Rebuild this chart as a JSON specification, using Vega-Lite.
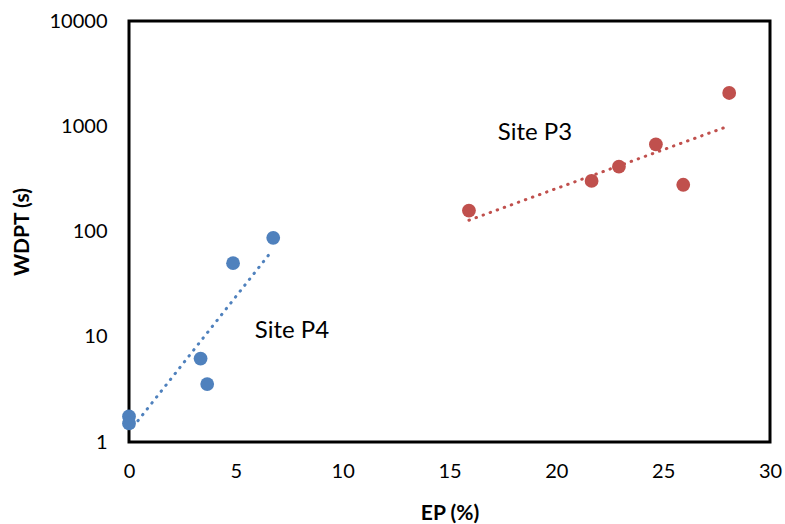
{
  "$schema": "https://vega.github.io/schema/vega-lite/v6.json",
  "width": 641,
  "height": 421,
  "autosize": "none",
  "padding": {"left": 129, "top": 21, "right": 15, "bottom": 82},
  "background": "white",
  "config": {
    "view": {"stroke": "black", "strokeWidth": 3},
    "font": "Lato"
  },
  "datasets": {
    "points": [
      {"site": "P4", "ep": 0, "wdpt": 1.75},
      {"site": "P4", "ep": 0, "wdpt": 1.5},
      {"site": "P4", "ep": 3.35, "wdpt": 6.2},
      {"site": "P4", "ep": 3.66, "wdpt": 3.55},
      {"site": "P4", "ep": 4.87, "wdpt": 50},
      {"site": "P4", "ep": 6.75, "wdpt": 87},
      {"site": "P3", "ep": 15.91, "wdpt": 158},
      {"site": "P3", "ep": 21.65, "wdpt": 302},
      {"site": "P3", "ep": 22.93, "wdpt": 413},
      {"site": "P3", "ep": 24.66, "wdpt": 674},
      {"site": "P3", "ep": 25.94, "wdpt": 278},
      {"site": "P3", "ep": 28.09, "wdpt": 2070}
    ],
    "trend": [
      {"site": "P4", "ep": 0.2, "wdpt": 1.4},
      {"site": "P4", "ep": 6.72, "wdpt": 66.7},
      {"site": "P3", "ep": 15.91, "wdpt": 128},
      {"site": "P3", "ep": 27.9, "wdpt": 977}
    ],
    "labels": [
      {"ep": 7.63, "wdpt": 11.3, "text": "Site P4"},
      {"ep": 19.0, "wdpt": 863, "text": "Site P3"}
    ]
  },
  "layer": [
    {
      "data": {"name": "trend"},
      "mark": {"type": "line", "strokeWidth": 3, "strokeDash": [0.5, 7], "strokeCap": "round"},
      "encoding": {
        "x": {"field": "ep", "type": "quantitative"},
        "y": {"field": "wdpt", "type": "quantitative"},
        "detail": {"field": "site"},
        "color": {"field": "site", "type": "nominal", "scale": {"domain": ["P4", "P3"], "range": ["#4F81BD", "#C0504D"]}, "legend": null}
      }
    },
    {
      "data": {"name": "points"},
      "mark": {"type": "circle", "size": 190, "opacity": 1},
      "encoding": {
        "x": {
          "field": "ep", "type": "quantitative",
          "scale": {"domain": [0, 30], "nice": false, "zero": false},
          "axis": {
            "title": "EP (%)", "values": [0, 5, 10, 15, 20, 25, 30],
            "grid": false, "ticks": false, "domain": false, "labelFlush": false,
            "labelFontSize": 20, "labelColor": "black", "labelPadding": 19,
            "titleFontSize": 21, "titleFontWeight": "bold", "titleColor": "black", "titlePadding": 21
          }
        },
        "y": {
          "field": "wdpt", "type": "quantitative",
          "scale": {"type": "log", "domain": [1, 10000], "nice": false},
          "axis": {
            "title": "WDPT (s)", "values": [1, 10, 100, 1000, 10000], "format": "d",
            "grid": false, "ticks": false, "domain": false, "labelFlush": false,
            "labelFontSize": 20, "labelColor": "black", "labelPadding": 22,
            "titleFontSize": 21, "titleFontWeight": "bold", "titleColor": "black", "titlePadding": 17
          }
        },
        "color": {"field": "site", "type": "nominal", "scale": {"domain": ["P4", "P3"], "range": ["#4F81BD", "#C0504D"]}, "legend": null}
      }
    },
    {
      "data": {"name": "labels"},
      "mark": {"type": "text", "fontSize": 24, "color": "black", "align": "center", "baseline": "middle"},
      "encoding": {
        "x": {"field": "ep", "type": "quantitative"},
        "y": {"field": "wdpt", "type": "quantitative"},
        "text": {"field": "text"}
      }
    }
  ]
}
